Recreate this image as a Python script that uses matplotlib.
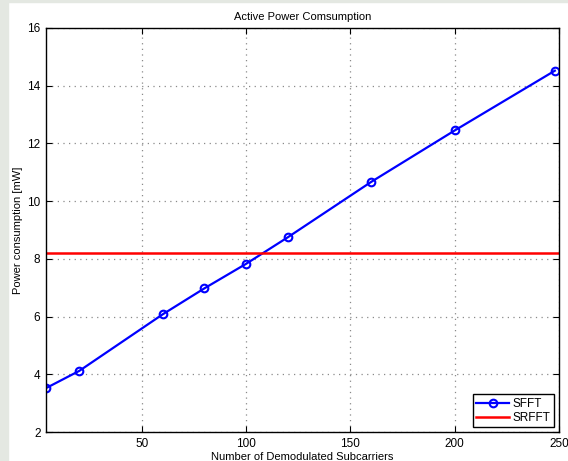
import matplotlib.pyplot as plt
from matplotlib.patches import Rectangle

plt.rcParams['font.family'] = ['Liberation Sans', 'DejaVu Sans']

# data
subcarriers = [4, 20, 60, 80, 100, 120, 160, 200, 248]
sfft_power = [3.52, 4.12, 6.08, 6.98, 7.83, 8.75, 10.67, 12.45, 14.52]
srfft_power = 8.21

xticks = [50, 100, 150, 200, 250]
yticks = [2, 4, 6, 8, 10, 12, 14, 16]

fig = plt.figure(figsize=(5.68, 4.61), dpi=100)
fig.patch.set_facecolor('white')
# grey strips at the left and top edge of the original screenshot
fig.patches.append(Rectangle((0, 0), 8 / 568, 1, transform=fig.transFigure,
                             color='#e4e8e2', zorder=0))
fig.patches.append(Rectangle((0, 1 - 2 / 461), 1, 2 / 461, transform=fig.transFigure,
                             color='#e4e8e2', zorder=0))

ax = fig.add_axes([46 / 568, 29 / 461, 513 / 568, 404 / 461])
ax.plot(subcarriers, sfft_power, '-o', color='blue', lw=1.6, ms=5.5,
        mfc='none', mew=1.5, label='SFFT')
ax.axhline(srfft_power, color='red', lw=1.8, label='SRFFT')

ax.set_xlim(4, 250)
ax.set_ylim(2, 16)
ax.set_xticks(xticks)
ax.set_yticks(yticks)
ax.tick_params(direction='in', top=True, right=True, length=4, width=0.8,
               labelsize=8.5, pad=4)
ax.grid(True, linestyle=(0, (1, 3.5)), color='#8a8a8a', linewidth=0.9)
for s in ax.spines.values():
    s.set_linewidth(1.0)

ax.set_title('Active Power Comsumption', fontsize=8, pad=6)
ax.set_xlabel('Number of Demodulated Subcarriers', fontsize=8, labelpad=2)
ax.set_ylabel('Power consumption [mW]', fontsize=8, labelpad=3)

leg = ax.legend(loc='lower right', fontsize=8.5, fancybox=False, framealpha=1,
                edgecolor='black', borderpad=0.3, handlelength=2.8,
                handletextpad=0.3, labelspacing=0.15, borderaxespad=0.4)
leg.get_frame().set_linewidth(1.0)

fig.savefig('out.png', dpi=100)
